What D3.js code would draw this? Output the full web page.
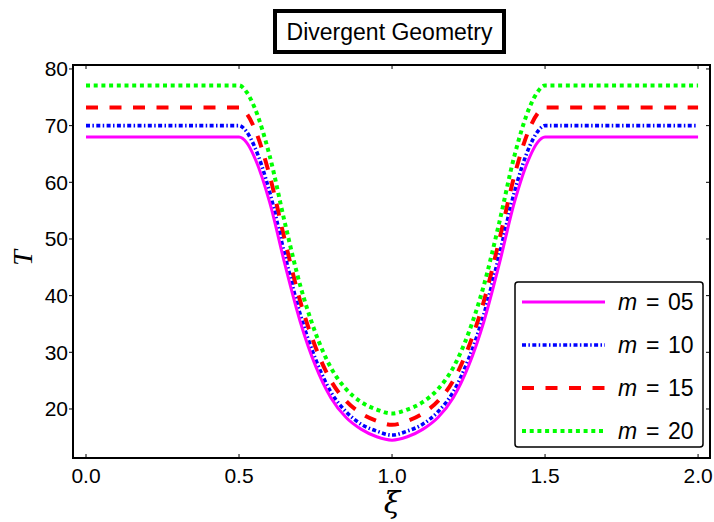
<!DOCTYPE html>
<html>
<head>
<meta charset="utf-8">
<script src="https://cdn.jsdelivr.net/npm/d3@7"></script>
<style>
  body { margin: 0; background: #fff; }
  text { font-family: "Liberation Sans", Arial, sans-serif; }
</style>
</head>
<body>
<div id="chart"></div>
<script>
// xi positions the curves were read at
var xi = [0, 0.5, 0.525, 0.55, 0.6, 0.65, 0.7, 0.75, 0.8, 0.85, 0.9, 0.95, 1.0,
          1.05, 1.1, 1.15, 1.2, 1.25, 1.3, 1.35, 1.4, 1.45, 1.475, 1.5, 2.0];

var m05 = [68.0, 68.0, 67.0, 64.5, 56.5, 45.5, 35.4, 27.6, 22.0, 18.5, 16.4, 15.1, 14.5,
           15.1, 16.4, 18.5, 22.0, 27.6, 35.4, 45.5, 56.5, 64.5, 67.0, 68.0, 68.0];
var m10 = [70.0, 70.0, 68.9, 66.4, 58.3, 47.1, 36.7, 28.8, 23.0, 19.5, 17.3, 16.1, 15.4,
           16.1, 17.3, 19.5, 23.0, 28.8, 36.7, 47.1, 58.3, 66.4, 68.9, 70.0, 70.0];
var m15 = [73.2, 73.2, 72.1, 69.6, 61.2, 49.7, 39.0, 30.9, 25.0, 21.4, 19.2, 17.9, 17.2,
           17.9, 19.2, 21.4, 25.0, 30.9, 39.0, 49.7, 61.2, 69.6, 72.1, 73.2, 73.2];
var m20 = [77.1, 77.1, 75.9, 73.3, 64.7, 52.8, 41.8, 33.4, 27.3, 23.5, 21.2, 19.9, 19.2,
           19.9, 21.2, 23.5, 27.3, 33.4, 41.8, 52.8, 64.7, 73.3, 75.9, 77.1, 77.1];

var labels = ["05", "10", "15", "20"];
var colors = ["#ff00ff", "#0000ff", "#ff0000", "#00ff00"];
var dashes = [null, "4,2.4,1.5,2.4", "12,11.5", "4,3.7"];
var widths = [3, 3.6, 4, 4];

var xTicks = [0, 0.5, 1.0, 1.5, 2.0];
var yTicks = [20, 30, 40, 50, 60, 70, 80];

var width = 714, height = 522;
var pLeft = 73, pRight = 710, pTop = 65, pBottom = 458;

var svg = d3.select("#chart").append("svg")
  .attr("width", width)
  .attr("height", height);

var x = d3.scaleLinear().domain([-0.0425, 2.039]).range([pLeft, pRight]);
var y = d3.scaleLinear().domain([11.35, 80.7]).range([pBottom, pTop]);

svg.append("clipPath").attr("id", "clip")
  .append("rect")
  .attr("x", pLeft).attr("y", pTop)
  .attr("width", pRight - pLeft).attr("height", pBottom - pTop);

var line = d3.line()
  .x(d => x(d[0]))
  .y(d => y(d[1]))
  .curve(d3.curveMonotoneX);

var series = [m05, m10, m15, m20];
var g = svg.append("g").attr("clip-path", "url(#clip)");
// draw in reverse so magenta sits on top like the reference
[3, 2, 1, 0].forEach(function(i) {
  g.append("path")
    .datum(xi.map((v, k) => [v, series[i][k]]))
    .attr("d", line)
    .attr("fill", "none")
    .attr("stroke", colors[i])
    .attr("stroke-width", widths[i])
    .attr("stroke-dasharray", dashes[i]);
});

// frame
svg.append("rect")
  .attr("x", pLeft).attr("y", pTop)
  .attr("width", pRight - pLeft).attr("height", pBottom - pTop)
  .attr("fill", "none").attr("stroke", "#000").attr("stroke-width", 2);

// ticks
xTicks.forEach(function(t) {
  svg.append("line").attr("x1", x(t)).attr("x2", x(t)).attr("y1", pBottom).attr("y2", pBottom - 4)
    .attr("stroke", "#000").attr("stroke-width", 1);
  svg.append("line").attr("x1", x(t)).attr("x2", x(t)).attr("y1", pTop).attr("y2", pTop + 4)
    .attr("stroke", "#000").attr("stroke-width", 1);
  svg.append("text").attr("x", x(t)).attr("y", 483)
    .attr("text-anchor", "middle").attr("font-size", 21)
    .text(d3.format(".1f")(t));
});
yTicks.forEach(function(t) {
  svg.append("line").attr("x1", pLeft).attr("x2", pLeft - 4).attr("y1", y(t)).attr("y2", y(t))
    .attr("stroke", "#000").attr("stroke-width", 1);
  svg.append("line").attr("x1", pRight).attr("x2", pRight - 4).attr("y1", y(t)).attr("y2", y(t))
    .attr("stroke", "#000").attr("stroke-width", 1);
  svg.append("text").attr("x", 68).attr("y", y(t) + 7.5)
    .attr("text-anchor", "end").attr("font-size", 21)
    .text(t);
});

// axis labels
svg.append("text")
  .attr("transform", "translate(32,258) rotate(-90)")
  .attr("text-anchor", "middle")
  .style("font-family", "'Liberation Serif', serif")
  .style("font-style", "italic")
  .attr("font-size", 28)
  .text("T");
svg.append("text")
  .attr("x", 392).attr("y", 513)
  .attr("text-anchor", "middle")
  .style("font-family", "'DejaVu Serif', serif")
  .style("font-style", "italic")
  .attr("font-size", 30)
  .text("ξ");

// title box
svg.append("rect")
  .attr("x", 275).attr("y", 11).attr("width", 229).attr("height", 41)
  .attr("fill", "#fff").attr("stroke", "#000").attr("stroke-width", 4);
svg.append("text")
  .attr("x", 389.5).attr("y", 40)
  .attr("text-anchor", "middle").attr("font-size", 23)
  .text("Divergent Geometry");

// legend
var lg = svg.append("g");
lg.append("rect")
  .attr("x", 515).attr("y", 282).attr("width", 188).attr("height", 165)
  .attr("rx", 3).attr("fill", "#fff").attr("stroke", "#000").attr("stroke-width", 1.5);
labels.forEach(function(lab, i) {
  var ly = 302 + i * 43;
  lg.append("line")
    .attr("x1", 522).attr("x2", 605).attr("y1", ly).attr("y2", ly)
    .attr("stroke", colors[i]).attr("stroke-width", widths[i])
    .attr("stroke-dasharray", dashes[i]);
  lg.append("text").attr("x", 618).attr("y", ly + 7.5).attr("font-size", 23)
    .style("font-style", "italic").text("m");
  lg.append("text").attr("x", 646).attr("y", ly + 7.5).attr("font-size", 23).text("=");
  lg.append("text").attr("x", 668).attr("y", ly + 7.5).attr("font-size", 23).text(lab);
});
</script>
</body>
</html>
